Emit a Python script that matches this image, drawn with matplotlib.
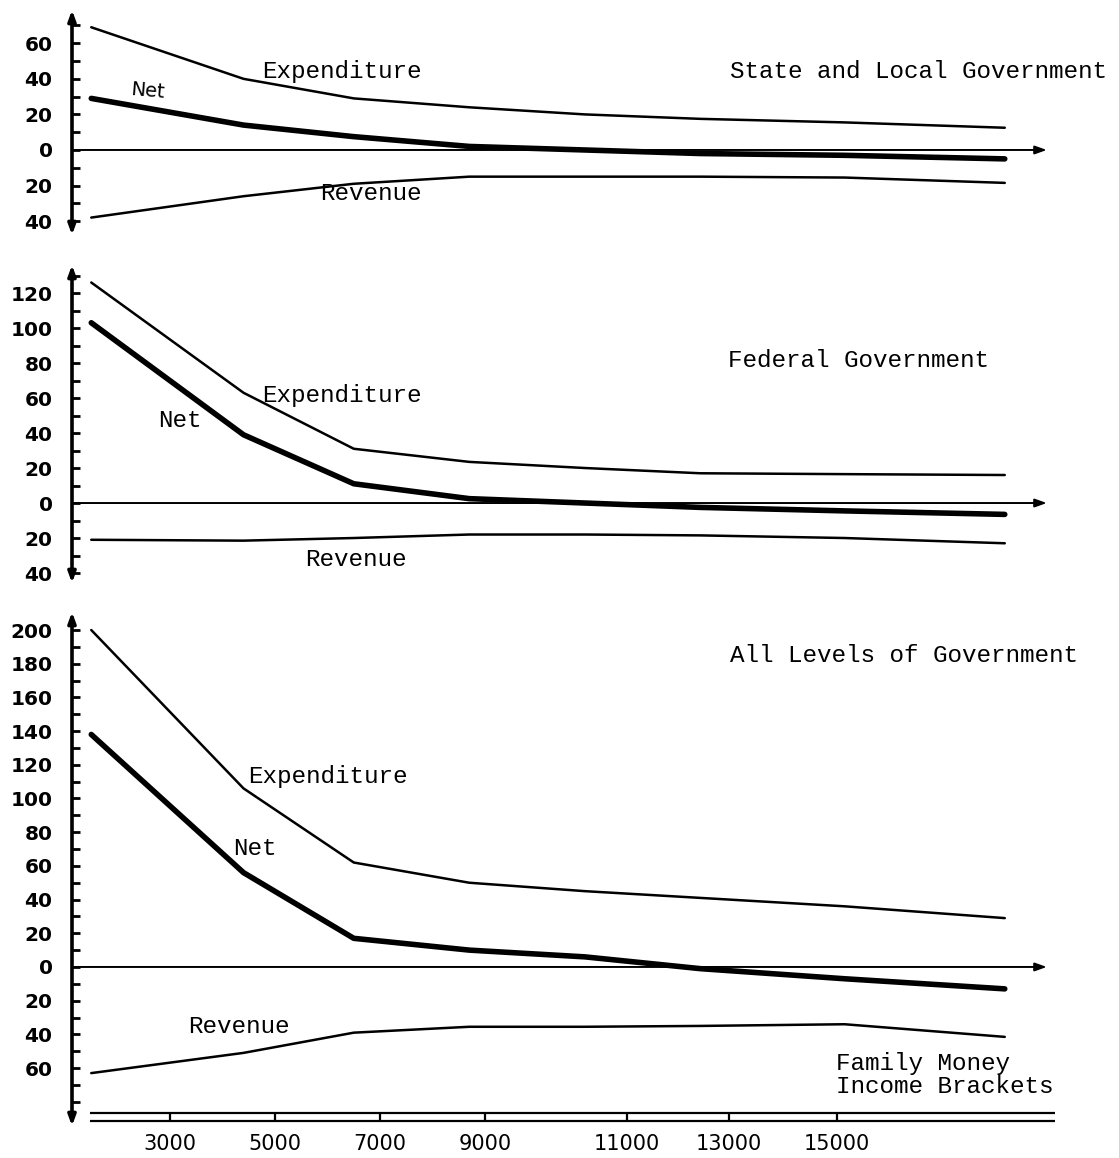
import numpy as np
import matplotlib.pyplot as plt

# income brackets (positions on the drawn x scale) and tick labels
brackets = [1500, 4400, 6500, 8700, 10900, 13100, 15850, 18900]
tick_pos = [3000, 5000, 7000, 9000, 11700, 13650, 15700]
tick_labels = ['3000', '5000', '7000', '9000', '11000', '13000', '15000']

# State and local government
state_exp = [69, 40, 29, 24, 20, 17.5, 15.5, 12.5]
state_net = [29, 14, 7.5, 2, 0, -2, -3, -5]
state_rev = [-38, -26, -19, -15, -15, -15, -15.5, -18.5]

# Federal government
fed_exp = [126, 63, 31, 23.5, 20, 17, 16.5, 16]
fed_net = [103, 39, 11, 2.5, 0, -2.5, -4.5, -6.5]
fed_rev = [-21, -21.5, -20, -18, -18, -18.5, -20, -23]

# All levels of government
all_exp = [200, 106, 62, 50, 45, 41, 36, 29]
all_net = [138, 56, 17, 10, 6, -1, -7, -13]
all_rev = [-63, -51, -39, -35.5, -35.5, -35, -34, -41.5]

W, H = 1119, 1158
mono = 'Liberation Mono'
tsize = 17.5

def rect(top, bottom, left=72, right=1060):
    return [left / W, 1 - bottom / H, (right - left) / W, (bottom - top) / H]

fig = plt.figure(figsize=(W / 100, H / 100), dpi=100)

panels = [
    dict(box=(10, 235), ylim=(-47.8, 78.7), major=np.arange(-40, 61, 20),
         minor=np.arange(-40, 71, 10), exp=state_exp, net=state_net, rev=state_rev,
         title='State and Local Government', title_xy=(13667, 44.4),
         exp_xy=(4750, 44.4), net_xy=(2238, 33), rev_xy=(5857, -24.7)),
    dict(box=(265, 583), ylim=(-45.7, 136), major=np.arange(-40, 121, 20),
         minor=np.arange(-40, 131, 10), exp=fed_exp, net=fed_net, rev=fed_rev,
         title='Federal Government', title_xy=(13630, 81.7),
         exp_xy=(4750, 61.7), net_xy=(2771, 46.9), rev_xy=(5571, -32)),
    dict(box=(612, 1126), ylim=(-94.4, 210.7), major=np.arange(-60, 201, 20),
         minor=np.arange(-80, 201, 10), exp=all_exp, net=all_net, rev=all_rev,
         title='All Levels of Government', title_xy=(13667, 185),
         exp_xy=(4486, 113), net_xy=(4200, 70.6), rev_xy=(3343, -35.6)),
]

for i, p in enumerate(panels):
    ax = fig.add_axes(rect(*p['box']))
    ax.set_xlim(1133, 19952)
    ax.set_ylim(*p['ylim'])
    for s in ax.spines.values():
        s.set_visible(False)
    ax.set_facecolor('none')

    ax.plot(brackets, p['exp'], color='black', lw=1.8, solid_capstyle='round')
    ax.plot(brackets, p['net'], color='black', lw=4, solid_capstyle='round')
    ax.plot(brackets, p['rev'], color='black', lw=1.8, solid_capstyle='round')

    # zero line with arrow
    ax.annotate('', xy=(19700, 0), xytext=(1133, 0),
                arrowprops=dict(arrowstyle='-|>,head_width=0.25,head_length=0.7',
                                color='black', lw=1.4, shrinkA=0, shrinkB=0))
    # vertical axis with arrows on both ends
    ax.annotate('', xy=(0, 1), xytext=(0, 0), xycoords='axes fraction',
                arrowprops=dict(arrowstyle='<|-|>,head_width=0.22,head_length=0.6',
                                color='black', lw=2.6, shrinkA=0, shrinkB=0))

    ax.set_yticks(p['major'], labels=[str(abs(v)) for v in p['major']])
    ax.set_yticks(p['minor'], minor=True)
    ax.tick_params(axis='y', which='both', direction='in', length=6, width=2,
                   labelsize=14.5, pad=14)
    for lbl in ax.get_yticklabels():
        lbl.set_fontweight('bold')

    ax.text(*p['title_xy'], p['title'], family=mono, fontsize=tsize, va='center')
    ax.text(*p['exp_xy'], 'Expenditure', family=mono, fontsize=tsize, va='center')
    ax.text(*p['net_xy'], 'Net', family=mono if i else 'DejaVu Sans',
            fontsize=tsize if i else 14, va='center', rotation=0 if i else -5)
    ax.text(*p['rev_xy'], 'Revenue', family=mono, fontsize=tsize, va='center')

    if i < 2:
        ax.set_xticks([])
    else:
        ax.set_xticks(tick_pos, labels=tick_labels)
        ax.tick_params(axis='x', length=0, labelsize=15, pad=6)
        # double base line with bracket ticks
        ax.hlines([-86.6, -91.4], 1476, 19857, color='black', lw=1.6)
        ax.vlines(tick_pos, -91.4, -86.6, color='black', lw=1.6)
        ax.text(15686, -57.5, 'Family Money', family=mono, fontsize=tsize, va='center')
        ax.text(15686, -71, 'Income Brackets', family=mono, fontsize=tsize, va='center')

plt.savefig('out.png', dpi=100)
